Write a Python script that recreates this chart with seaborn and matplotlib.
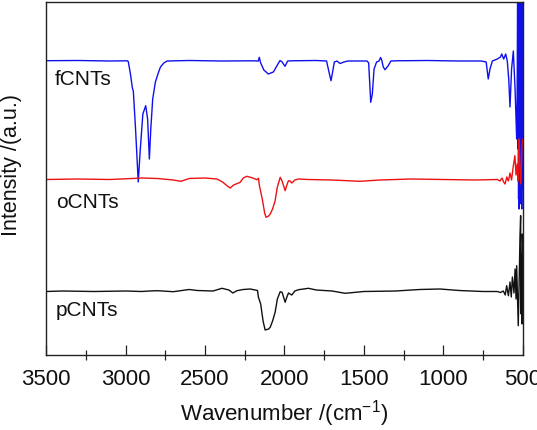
import matplotlib
matplotlib.use("Agg")
import matplotlib.pyplot as plt
import seaborn as sns
import pandas as pd
from matplotlib.ticker import MultipleLocator

# ---------------- data (intensity in arbitrary units) ----------------
f_wn = [3500, 3300, 3100, 2990, 2984, 2970, 2958, 2952, 2938, 2921, 2908, 2892, 2874, 2862,
        2851, 2842, 2830, 2813, 2795, 2781, 2760, 2739, 2600, 2400, 2200, 2165, 2159, 2150,
        2130, 2102, 2070, 2045, 2028, 2015, 1997, 1980, 1960, 1800, 1735, 1731, 1717, 1707,
        1696, 1686, 1670, 1650, 1626, 1600, 1480, 1470, 1463, 1457, 1447, 1436, 1420, 1405,
        1395, 1388, 1378, 1367, 1348, 1330, 1300, 1100, 900, 760, 730, 717, 706, 691, 660,
        640, 632, 620, 607, 597, 588, 580, 570, 559, 548, 538, 535, 532, 530, 528, 526, 524,
        522, 520, 518, 516, 514, 512, 510, 508, 506, 504, 502, 500]
f_int = [293.8, 294.0, 293.5, 293.7, 293.0, 280.5, 266.5, 263.5, 225.5, 172.5, 205.5, 240.5,
         248.8, 235.5, 195.5, 225.5, 255.5, 272.5, 281.5, 287.5, 291.5, 293.5, 294.0, 293.5,
         293.7, 293.5, 297.2, 291.5, 284.5, 280.5, 282.5, 289.5, 294.0, 292.5, 288.2, 293.5,
         293.7, 294.0, 293.5, 290.5, 280.5, 273.8, 283.5, 292.5, 293.5, 291.0, 292.5, 293.5,
         293.5, 291.5, 270.5, 252.2, 260.5, 285.5, 292.5, 293.5, 297.0, 294.5, 287.5, 284.8,
         288.5, 293.5, 293.7, 294.0, 293.5, 293.5, 292.5, 275.5, 285.5, 293.5, 295.5, 297.5,
         300.5, 295.5, 300.5, 293.5, 275.5, 247.5, 285.5, 303.5, 265.5, 215.5, 255.5, 365.0,
         205.5, 365.0, 155.5, 365.0, 145.5, 365.0, 150.5, 365.0, 175.5, 365.0, 155.5, 365.0,
         145.5, 365.0, 165.5, 365.0]

o_wn = [3500, 3300, 3100, 2960, 2900, 2800, 2700, 2652, 2600, 2500, 2426, 2390, 2360, 2342,
        2320, 2279, 2260, 2237, 2200, 2174, 2164, 2158, 2140, 2125, 2116, 2100, 2090, 2075,
        2059, 2045, 2027, 2015, 1996, 1985, 1975, 1965, 1954, 1935, 1912, 1850, 1700, 1524,
        1400, 1200, 1000, 800, 660, 643, 630, 620, 611, 600, 590, 580, 570, 560, 549, 542,
        535, 530, 526, 522, 518, 512, 505, 500]
o_int = [175.0, 175.5, 175.0, 176.0, 176.5, 176.0, 174.5, 173.2, 176.0, 176.5, 175.5, 172.5,
         168.5, 166.5, 169.5, 172.2, 176.5, 178.2, 176.5, 174.8, 176.2, 168.8, 155.5, 141.5,
         137.2, 138.5, 140.5, 145.5, 153.8, 167.5, 177.2, 173.5, 163.8, 169.5, 173.8, 173.5,
         171.5, 174.5, 175.5, 175.0, 174.5, 173.2, 174.5, 175.5, 175.0, 174.5, 175.0, 173.5,
         176.5, 172.5, 170.5, 177.5, 173.5, 181.5, 174.5, 187.5, 198.8, 179.5, 190.5, 173.5,
         205.5, 215.5, 185.5, 170.5, 205.5, 215.5]

p_wn = [3500, 3400, 3200, 3000, 2900, 2850, 2800, 2700, 2600, 2550, 2450, 2394, 2350, 2325,
        2300, 2260, 2216, 2185, 2170, 2164, 2150, 2135, 2122, 2100, 2090, 2075, 2059, 2045,
        2027, 2015, 1996, 1985, 1975, 1965, 1954, 1935, 1912, 1880, 1849, 1800, 1700, 1618,
        1500, 1300, 1150, 1021, 900, 750, 660, 640, 622, 610, 601, 590, 580, 572, 565, 555,
        548, 542, 538, 528, 522, 517, 513, 510, 507, 504, 502, 500]
p_int = [63.0, 63.5, 63.0, 63.5, 63.0, 63.5, 63.8, 62.8, 65.0, 64.0, 63.5, 66.2, 64.5, 61.5,
         63.8, 65.0, 65.5, 64.5, 64.0, 57.2, 50.5, 33.5, 24.5, 25.5, 27.2, 33.5, 42.2, 55.5,
         62.8, 62.2, 52.2, 57.5, 61.5, 60.5, 59.5, 63.5, 64.8, 65.5, 66.2, 64.5, 63.5, 61.2,
         63.0, 63.5, 65.0, 65.5, 64.0, 63.0, 63.0, 62.0, 63.5, 59.5, 68.8, 58.8, 72.5, 57.5,
         77.5, 61.5, 85.5, 55.5, 88.8, 28.8, 75.5, 118.8, 138.8, 40.5, 100.5, 30.5, 120.5,
         110.5]

labels = ["fCNTs", "oCNTs", "pCNTs"]
colors = ["#1010ee", "#ee1111", "#111111"]
x_ticks = [3500, 3000, 2500, 2000, 1500, 1000, 500]

series = [(f_wn, f_int), (o_wn, o_int), (p_wn, p_int)]

# ---------------- plotting ----------------
sns.set_style("ticks")
plt.rcParams["font.family"] = ["Liberation Sans", "DejaVu Sans"]

fig = plt.figure(figsize=(5.37, 4.31), dpi=100)
ax = fig.add_axes([46.3 / 537, 1 - 355.5 / 431, 476.4 / 537, 352.8 / 431])

for lab, col, (wn, it) in zip(labels, colors, series):
    df = pd.DataFrame({"wn": wn, "I": it})
    sns.lineplot(data=df, x="wn", y="I", sort=False, estimator=None, color=col,
                 linewidth=1.0, ax=ax)

ax.set_xlim(3500, 500)
ax.set_ylim(0, 352.8)
ax.set_xticks(x_ticks)
ax.set_xticklabels([str(t) for t in x_ticks])
ax.xaxis.set_minor_locator(MultipleLocator(250))
ax.tick_params(axis="x", which="major", direction="in", length=7, width=0.9,
               labelsize=16, pad=9.5, colors="#222222", labelcolor="#111111")
ax.tick_params(axis="x", which="minor", direction="inout", length=7, width=0.9,
               colors="#222222")
ax.tick_params(axis="y", left=False, labelleft=False)
ax.set_yticks([])
for s in ax.spines.values():
    s.set_visible(True)
    s.set_linewidth(1.0)
    s.set_color("#222222")

ax.set_xlabel("Wavenumber /(cm$^{\\mathregular{-1}}$)", fontsize=16, labelpad=6,
              color="#111111")
ax.set_ylabel("Intensity /(a.u.)", fontsize=15.5, color="#111111")
ax.yaxis.set_label_coords(-0.051, 0.541)

text_pos = [(3445, 276.5), (3435, 153.5), (3439, 44.5)]
for lab, (tx, ty) in zip(labels, text_pos):
    ax.text(tx, ty, lab, fontsize=15, va="center", ha="left", color="#111111")

fig.savefig("out.png", dpi=100)
